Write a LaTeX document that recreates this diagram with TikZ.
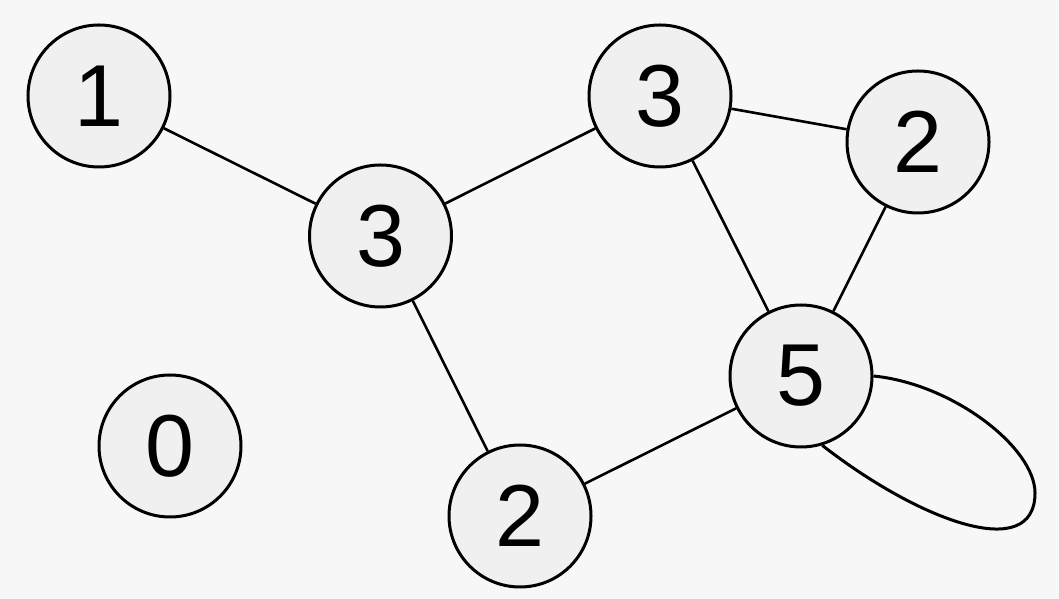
\documentclass[tikz,border=0pt]{standalone}
\usepackage{fontspec}
\setmainfont{Liberation Sans}
\usetikzlibrary{backgrounds}
\definecolor{bgc}{HTML}{F7F7F7}
\definecolor{nodefill}{HTML}{F0F0F0}
\tikzset{
  vertex/.style={circle, draw=black, line width=3pt, fill=nodefill, minimum size=142pt, inner sep=0pt, font=\fontsize{88}{88}\selectfont},
  edge/.style={draw=black, line width=2.6pt},
}
\begin{document}
\begin{tikzpicture}[x=1pt,y=1pt]
\useasboundingbox (0,0) rectangle (1059,599);
\node[vertex] (n1) at (99,503) {1};
\node[vertex] (n3a) at (380.5,363) {3};
\node[vertex] (n3b) at (660,503) {3};
\node[vertex] (n2a) at (918,457) {2};
\node[vertex] (n5) at (801,223) {5};
\node[vertex] (n2b) at (520,83) {2};
\node[vertex] (n0) at (170,153) {0};
\coordinate (looptip) at (1035,106);
\begin{scope}[on background layer]
\fill[bgc] (0,0) rectangle (1059,599);
\draw[edge] (n1) -- (n3a);
\draw[edge] (n3a) -- (n3b);
\draw[edge] (n3a) -- (n2b);
\draw[edge] (n3b) -- (n2a);
\draw[edge] (n3b) -- (n5);
\draw[edge] (n2a) -- (n5);
\draw[edge] (n2b) -- (n5);
\draw[edge, line width=3pt] (n5.east) .. controls +(80,-8) and +(0,45) .. (looptip)
  .. controls +(0,-70) and +(99,-77) .. (n5.-73);
\end{scope}
\end{tikzpicture}
\end{document}
